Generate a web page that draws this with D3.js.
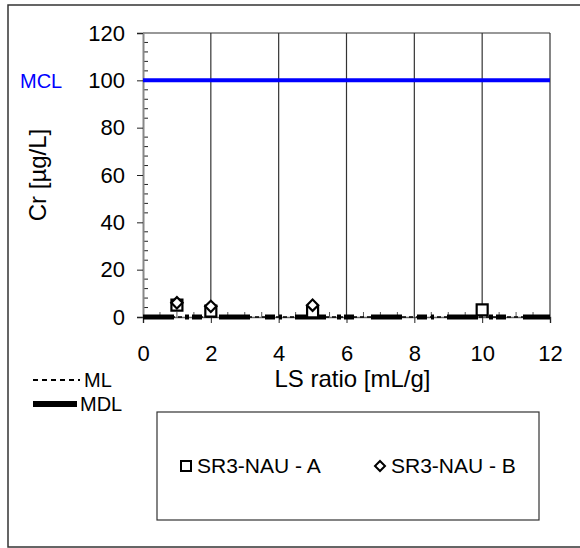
<!DOCTYPE html>
<html><head><meta charset="utf-8">
<script src="https://cdn.jsdelivr.net/npm/d3@7"></script>
<style>body{margin:0;background:#fff}text{font-family:"Liberation Sans",Arial,sans-serif}</style>
</head><body><svg id="c" width="580" height="548"></svg>
<script>
const xTicks = [0,2,4,6,8,10,12];
const yTicks = [0,20,40,60,80,100,120];
const seriesA_x = [1,2,5,10];
const seriesA_y = [5,2.5,2.2,3];
const seriesB_x = [1,2,5];
const seriesB_y = [6,4.5,5];
const mclValue = [100];
const mlLine = [[0,0],[12,0]];
const mdlLine = [[0,0],[12,0]];
const legendNames = ["SR3-NAU - A","SR3-NAU - B"];

const svg = d3.select("#c");
const L=143,R=550,T=33,B=317;
const x = d3.scaleLinear().domain([0,12]).range([L,R]);
const y = d3.scaleLinear().domain([0,120]).range([B,T]);
const FF = "Liberation Sans, Arial, sans-serif";

svg.append("rect").attr("x",8).attr("y",5).attr("width",620).attr("height",542)
  .attr("fill","none").attr("stroke","#333").attr("stroke-width",1.5);

svg.append("g").selectAll("line").data(xTicks.slice(1)).join("line")
  .attr("x1",d=>x(d)).attr("x2",d=>x(d)).attr("y1",T).attr("y2",B)
  .attr("stroke","#333").attr("stroke-width",1.2);
svg.append("line").attr("x1",L).attr("x2",R).attr("y1",T).attr("y2",T).attr("stroke","#333").attr("stroke-width",1.2);

const yMinor = d3.range(0,120.01,4).filter(v=>v%20!==0);
svg.append("g").selectAll("line").data(yMinor).join("line")
  .attr("x1",L).attr("x2",L+5).attr("y1",d=>y(d)).attr("y2",d=>y(d)).attr("stroke","#222").attr("stroke-width",1);
const xMinor = d3.range(0.5,12,0.5).filter(v=>v%2!==0);
svg.append("g").selectAll("line").data(xMinor).join("line")
  .attr("x1",d=>x(d)).attr("x2",d=>x(d)).attr("y1",B).attr("y2",B-5).attr("stroke","#555").attr("stroke-width",1);

const yAxis = svg.append("g").attr("transform",`translate(${L},0)`)
  .call(d3.axisLeft(y).tickValues(yTicks).tickSize(6).tickPadding(12));
yAxis.select(".domain").attr("stroke","#888").attr("stroke-width",2);
yAxis.selectAll(".tick line").attr("stroke","#222");
yAxis.selectAll("text").attr("font-size",22).attr("fill","#000").attr("font-family",FF);

const xAxis = svg.append("g").attr("transform",`translate(0,${B})`)
  .call(d3.axisBottom(x).tickValues(xTicks).tickSize(6).tickPadding(22));
xAxis.select(".domain").attr("stroke","#666").attr("stroke-width",1.5);
xAxis.selectAll(".tick line").attr("stroke","#222");
xAxis.selectAll("text").attr("font-size",22).attr("fill","#000").attr("font-family",FF);

svg.append("line").attr("x1",x(0)).attr("x2",x(12)).attr("y1",y(mclValue[0])).attr("y2",y(mclValue[0]))
  .attr("stroke","#0000ff").attr("stroke-width",4);
svg.append("text").attr("x",20).attr("y",y(mclValue[0])+8).attr("fill","#0000ff").attr("font-size",20).text("MCL");

const line = d3.line().x(d=>x(d[0])).y(d=>y(d[1]));
svg.append("path").attr("d",line(mdlLine)).attr("stroke","#000").attr("stroke-width",5).attr("fill","none")
  .attr("stroke-dasharray","31,11,4,3,10,17,31,15,10,4,3,13");
svg.append("path").attr("d",line(mlLine)).attr("stroke","#000").attr("stroke-width",1.5).attr("fill","none")
  .attr("stroke-dasharray","4,3");

const sq = d3.symbol().type(d3.symbolSquare).size(121);
const dm = d3.symbol().type(d3.symbolSquare).size(64);
svg.append("g").selectAll("path").data(seriesA_x.map((v,i)=>[v,seriesA_y[i]])).join("path")
  .attr("d",sq).attr("transform",d=>`translate(${x(d[0])},${y(d[1])})`)
  .attr("fill","#fff").attr("stroke","#000").attr("stroke-width",2.2);
svg.append("g").selectAll("path").data(seriesB_x.map((v,i)=>[v,seriesB_y[i]])).join("path")
  .attr("d",dm).attr("transform",d=>`translate(${x(d[0])},${y(d[1])}) rotate(45)`)
  .attr("fill","#fff").attr("stroke","#000").attr("stroke-width",2.2);

svg.append("text").attr("transform",`translate(46,175) rotate(-90)`).attr("text-anchor","middle")
  .attr("font-size",24).text("Cr [µg/L]");
svg.append("text").attr("x",(L+R)/2+6).attr("y",387).attr("text-anchor","middle")
  .attr("font-size",24).text("LS ratio [mL/g]");

svg.append("line").attr("x1",33).attr("x2",80).attr("y1",380).attr("y2",380).attr("stroke","#000").attr("stroke-width",2).attr("stroke-dasharray","5,4");
svg.append("text").attr("x",84).attr("y",387).attr("font-size",20).text("ML");
svg.append("line").attr("x1",33).attr("x2",77).attr("y1",404).attr("y2",404).attr("stroke","#000").attr("stroke-width",6);
svg.append("text").attr("x",80).attr("y",411).attr("font-size",20).text("MDL");

svg.append("rect").attr("x",157).attr("y",412).attr("width",382).attr("height",108)
  .attr("fill","#fff").attr("stroke","#333").attr("stroke-width",1.2);
const lg = svg.append("g");
const legX=[186,380];
lg.append("path").attr("d",d3.symbol().type(d3.symbolSquare).size(100)).attr("transform",`translate(${legX[0]},466)`)
  .attr("fill","#fff").attr("stroke","#000").attr("stroke-width",2);
lg.append("path").attr("d",d3.symbol().type(d3.symbolSquare).size(50)).attr("transform",`translate(${legX[1]},466) rotate(45)`)
  .attr("fill","#fff").attr("stroke","#000").attr("stroke-width",2);
lg.selectAll("text").data(legendNames).join("text").attr("x",(d,i)=>legX[i]+11).attr("y",473)
  .attr("font-size",21).text(d=>d);
</script></body></html>
